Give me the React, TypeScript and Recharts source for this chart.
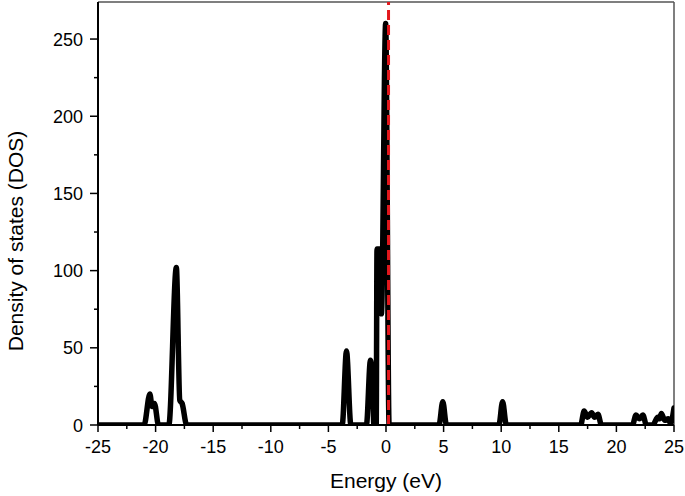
import { LineChart, Line, XAxis, YAxis, ReferenceLine, Label } from "recharts";

// energy (eV) and density of states
const energy = [
  -25, -21.0, -20.5, -20.3, -20.1, -19.75,
  -18.85, -18.2, -17.9, -17.7, -17.3,
  -3.8, -3.43, -3.05,
  -1.7, -1.35, -1.15, -1.05, -0.85, -0.78, -0.5, -0.4, -0.03, 0.27,
  4.6, 4.93, 5.25,
  9.8, 10.12, 10.45,
  16.9, 17.2, 17.5, 17.85, 18.1, 18.4, 18.7,
  21.4, 21.7, 22.0, 22.3, 22.6,
  23.15, 23.6, 23.75, 23.9, 24.2, 24.5, 24.7, 25,
];
const dos = [
  0, 0, 20, 12, 14, 0,
  0, 102, 16, 14, 0,
  0, 48, 0,
  0, 42, 22, 0, 0, 114, 114, 72, 260, 0,
  0, 15, 0,
  0, 15, 0,
  0, 9, 5, 8, 5, 7, 0,
  0, 6.5, 4, 6.5, 0,
  0, 5, 4, 7.5, 3, 4, 1, 11,
];

const xTicks = [-25, -22.5, -20, -17.5, -15, -12.5, -10, -7.5, -5, -2.5, 0, 2.5, 5, 7.5, 10, 12.5, 15, 17.5, 20, 22.5, 25];
const yTicks = [0, 25, 50, 75, 100, 125, 150, 175, 200, 225, 250];

const fermiLevel = 0.22;

const data = energy.map((e, i) => ({ energy: e, dos: dos[i] }));

const FONT = "'Liberation Sans', Arial, sans-serif";

const XTick = ({ x, y, payload }: any) => {
  const major = payload.value % 5 === 0;
  return (
    <g>
      <line x1={x} x2={x} y1={y} y2={y + (major ? 7 : 4)} stroke="#000" strokeWidth={1.5} />
      {major && (
        <text x={x} y={y + 28} textAnchor="middle" style={{ fontSize: 18, fontFamily: FONT }} fill="#000">
          {payload.value}
        </text>
      )}
    </g>
  );
};

const YTick = ({ x, y, payload }: any) => {
  const major = payload.value % 50 === 0;
  return (
    <g>
      <line x1={x} x2={x - (major ? 8 : 4)} y1={y} y2={y} stroke="#000" strokeWidth={1.5} />
      {major && (
        <text x={x - 15} y={y + 6.5} textAnchor="end" style={{ fontSize: 18, fontFamily: FONT }} fill="#000">
          {payload.value}
        </text>
      )}
    </g>
  );
};

export default function App() {
  return (
    <div>
      <style>{`body { margin: 0; }`}</style>
      <LineChart
        width={685}
        height={496}
        data={data}
        margin={{ top: 2, right: 11, bottom: 0, left: 0 }}
      >
        <XAxis
          dataKey="energy"
          type="number"
          domain={[-25, 25]}
          ticks={xTicks}
          interval={0}
          height={71}
          tickSize={0}
          tickMargin={0}
          tickLine={false}
          tick={<XTick />}
          axisLine={{ stroke: "#000", strokeWidth: 2 }}
          allowDataOverflow
        >
          <Label
            content={() => (
              <text x={386} y={488} textAnchor="middle" style={{ fontSize: 21, fontFamily: FONT }} fill="#000">
                Energy (eV)
              </text>
            )}
          />
        </XAxis>
        <YAxis
          type="number"
          domain={[0, 274]}
          ticks={yTicks}
          interval={0}
          width={98}
          tickSize={0}
          tickMargin={0}
          tickLine={false}
          tick={<YTick />}
          axisLine={{ stroke: "#000", strokeWidth: 2 }}
          allowDataOverflow
        >
          <Label
            content={() => (
              <text
                x={23}
                y={241}
                transform="rotate(-90 23 241)"
                textAnchor="middle"
                style={{ fontSize: 21, fontFamily: FONT }}
                fill="#000"
              >
                Density of states (DOS)
              </text>
            )}
          />
        </YAxis>
        <ReferenceLine y={274} stroke="#555" strokeWidth={1.5} />
        <ReferenceLine x={25} stroke="#555" strokeWidth={1.5} />
        <Line
          type="monotone"
          dataKey="dos"
          stroke="#000"
          strokeWidth={5.5}
          strokeLinejoin="round"
          strokeLinecap="round"
          dot={false}
          activeDot={false}
          isAnimationActive={false}
        />
        <ReferenceLine x={fermiLevel} stroke="#e3171c" strokeWidth={3} strokeDasharray="10 5" />
      </LineChart>
    </div>
  );
}
